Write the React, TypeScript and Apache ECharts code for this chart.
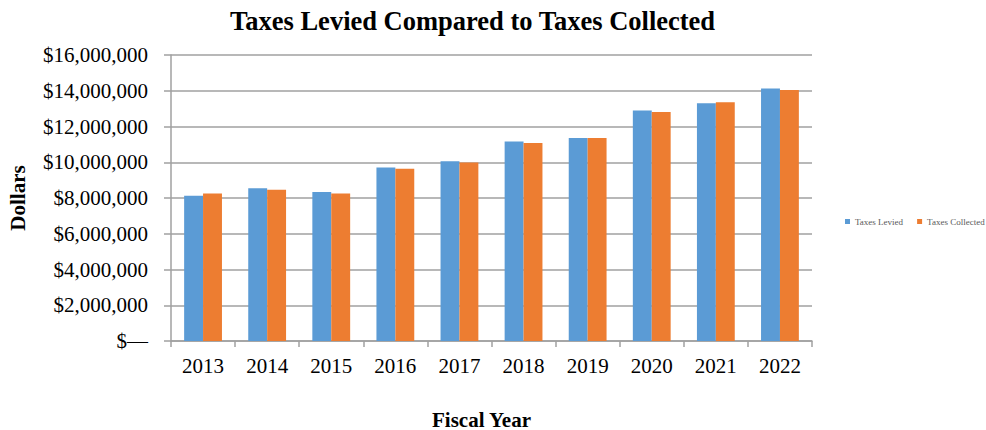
import React, { useEffect, useRef } from "react";
import * as echarts from "echarts";

const years = ["2013", "2014", "2015", "2016", "2017", "2018", "2019", "2020", "2021", "2022"];
const taxesLevied = [8120000, 8550000, 8330000, 9700000, 10060000, 11160000, 11360000, 12890000, 13300000, 14120000];
const taxesCollected = [8250000, 8460000, 8250000, 9630000, 9990000, 11080000, 11360000, 12810000, 13360000, 14040000];
const seriesNames = ["Taxes Levied", "Taxes Collected"];

const FONT = "'Liberation Serif', 'Times New Roman', serif";

export default function App() {
  const ref = useRef<HTMLDivElement>(null);
  useEffect(() => {
    document.body.style.margin = "0";
    const chart = echarts.init(ref.current!, null, { renderer: "svg" });
    chart.setOption({
      animation: false,
      backgroundColor: "#ffffff",
      title: {
        text: "Taxes Levied Compared to Taxes Collected",
        left: 225,
        top: 2,
        textStyle: { fontFamily: FONT, fontSize: 26.5, fontWeight: "bold", color: "#000" },
      },
      legend: {
        data: seriesNames,
        orient: "horizontal",
        left: 845,
        top: 217,
        width: 145,
        padding: 0,
        itemWidth: 5,
        itemHeight: 5,
        itemGap: 14,
        icon: "rect",
        textStyle: { fontFamily: FONT, fontSize: 9, color: "#595959" },
      },
      grid: { left: 171, right: 174, top: 55, bottom: 89, containLabel: false, outerBoundsMode: "none" },
      xAxis: {
        type: "category",
        data: years,
        name: "Fiscal Year",
        nameLocation: "middle",
        nameGap: 68,
        nameTextStyle: { fontFamily: FONT, fontSize: 21, fontWeight: "bold", color: "#000", padding: [0, 20, 0, 0] },
        axisLine: { lineStyle: { color: "#a0a0a0", width: 1.5 } },
        axisTick: { show: true, length: 6, alignWithLabel: false, lineStyle: { color: "#a0a0a0", width: 1.5 } },
        axisLabel: { fontFamily: FONT, fontSize: 21, color: "#000", margin: 14 },
      },
      yAxis: {
        type: "value",
        min: 0,
        max: 16000000,
        interval: 2000000,
        name: "Dollars",
        nameLocation: "middle",
        nameGap: 143,
        nameRotate: 90,
        nameTextStyle: { fontFamily: FONT, fontSize: 21, fontWeight: "bold", color: "#000" },
        axisLine: { show: true, lineStyle: { color: "#a0a0a0", width: 1.5 } },
        axisTick: { show: true, length: 7, lineStyle: { color: "#a0a0a0", width: 1.5 } },
        splitLine: { show: true, lineStyle: { color: "#a0a0a0", width: 1.5 } },
        axisLabel: {
          fontFamily: FONT,
          fontSize: 21,
          color: "#000",
          margin: 23,
          formatter: (v: number) => (v === 0 ? "$\u2014" : "$" + v.toLocaleString("en-US")),
        },
      },
      series: [
        {
          name: seriesNames[0],
          type: "bar",
          data: taxesLevied,
          barGap: "0%",
          barCategoryGap: "41%",
          itemStyle: { color: "#5B9BD5" },
        },
        {
          name: seriesNames[1],
          type: "bar",
          data: taxesCollected,
          barGap: "0%",
          barCategoryGap: "41%",
          itemStyle: { color: "#ED7D31" },
        },
      ],
    });
    return () => chart.dispose();
  }, []);
  return <div ref={ref} style={{ width: 986, height: 430 }} />;
}
